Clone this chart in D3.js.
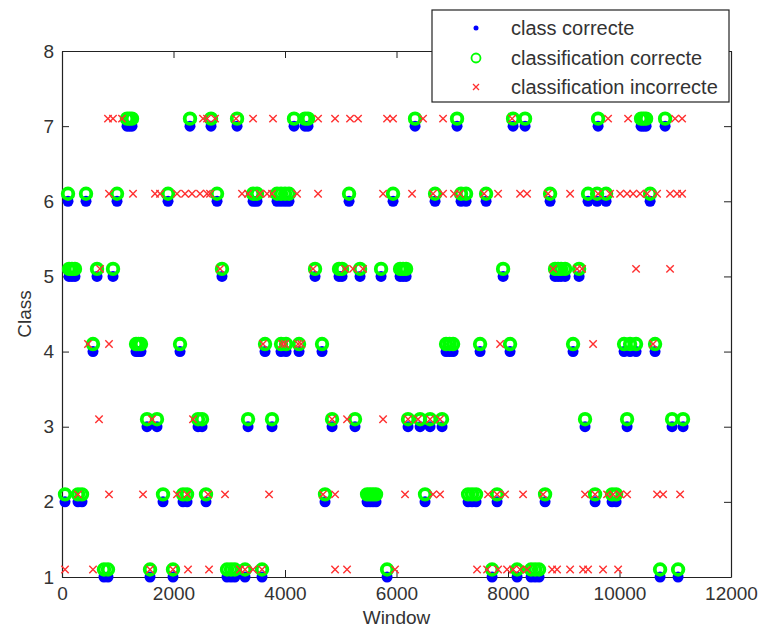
<!DOCTYPE html>
<html>
<head>
<meta charset="utf-8">
<script src="https://cdn.jsdelivr.net/npm/d3@7"></script>
<style>
  body { margin: 0; background: #fff; }
  svg { display: block; font-family: "Liberation Sans", Arial, sans-serif; }
</style>
</head>
<body>
<svg id="chart" width="760" height="629"></svg>
<script>
// window indices of correctly classified windows, per class
const correct1 = [753, 825, 1579, 1991, 2960, 3032, 3100, 3283, 3588, 5831, 7714, 8163, 8414, 8486, 8557, 10728, 11051];
const correct2 = [54, 287, 359, 1812, 2171, 2243, 2583, 4718, 5472, 5526, 5579, 5633, 6512, 7284, 7355, 7427, 7804, 8665, 9562, 9867, 9939];
const correct3 = [1525, 1704, 2440, 2512, 3337, 3767, 4844, 5256, 6207, 6423, 6602, 6817, 9382, 10136, 10943, 11140];
const correct4 = [556, 1328, 1372, 1417, 2117, 3642, 3929, 4019, 4252, 4664, 6889, 6952, 7015, 7499, 8037, 9167, 10082, 10190, 10297, 10638];
const correct5 = [126, 179, 233, 628, 915, 2870, 4539, 4969, 5023, 5346, 5723, 6064, 6118, 6172, 7912, 8844, 8898, 8952, 9024, 9275];
const correct6 = [108, 431, 987, 1902, 2781, 3427, 3498, 3857, 3929, 4001, 4072, 5149, 5938, 6692, 7158, 7248, 7607, 8755, 9436, 9598, 9759, 10549];
const correct7 = [1166, 1211, 1256, 2296, 2673, 3140, 4162, 4359, 4413, 6333, 7086, 8091, 8306, 9616, 10387, 10432, 10477, 10818];

// windows where the classifier was wrong, plotted on the class it predicted
const wrong1 = [54, 556, 1579, 1991, 2260, 2637, 3193, 3283, 3427, 3588, 4898, 5113, 5974, 7445, 7625, 7822, 7983, 8091, 8217, 8342, 8791, 8880, 9114, 9347, 9436, 9705, 9975];
const wrong2 = [287, 843, 1453, 2063, 2243, 2619, 2924, 3714, 4682, 4898, 6153, 6656, 6781, 7642, 7804, 7947, 8270, 8629, 9382, 9562, 9777, 9885, 10011, 10136, 10674, 10782, 11087];
const wrong3 = [664, 1615, 2350, 4844, 5113, 5759, 6207, 6386, 6602, 6781];
const wrong4 = [466, 843, 3606, 3947, 4001, 4234, 4288, 7858, 9526, 10602];
const wrong5 = [682, 2835, 4503, 5077, 5221, 5400, 8809, 9239, 9329, 10297, 10907];
const wrong6 = [843, 1274, 1668, 1758, 2063, 2207, 2332, 2476, 2601, 2655, 3229, 3337, 3552, 3678, 3767, 4216, 4593, 5759, 6279, 6656, 6835, 7032, 7140, 7571, 7822, 8217, 8342, 8719, 9114, 9616, 9831, 10011, 10136, 10244, 10369, 10495, 10674, 10907, 11033, 11123];
const wrong7 = [825, 915, 1076, 2530, 2601, 2745, 3122, 3427, 3785, 4593, 4898, 5167, 5310, 5831, 5938, 6476, 6835, 8073, 9795, 10154, 10997, 11123];

const classes = [1, 2, 3, 4, 5, 6, 7];
const correctByClass = [correct1, correct2, correct3, correct4, correct5, correct6, correct7];
const wrongByClass = [wrong1, wrong2, wrong3, wrong4, wrong5, wrong6, wrong7];

const xTicks = [0, 2000, 4000, 6000, 8000, 10000, 12000];
const yTicks = [1, 2, 3, 4, 5, 6, 7, 8];
const legendLabels = ["class correcte", "classification correcte", "classification incorrecte"];

const offset = 0.1; // classification markers are lifted a bit above the true class

const correctPts = [], wrongPts = [];
classes.forEach((c, i) => {
    correctByClass[i].forEach(w => correctPts.push({ w, c }));
    wrongByClass[i].forEach(w => wrongPts.push({ w, c }));
});

const svg = d3.select("#chart");
const plot = { left: 62, right: 731, top: 51, bottom: 577 };

const x = d3.scaleLinear().domain([0, 12000]).range([plot.left, plot.right]);
const y = d3.scaleLinear().domain([1, 8]).range([plot.bottom, plot.top]);

// axes (ticks pointing inward, box on)
const axisStyle = g => {
    g.attr("font-family", null);
    g.select(".domain").attr("stroke", "#222").attr("stroke-width", 1.2);
    g.selectAll(".tick line").attr("stroke", "#222");
    g.selectAll(".tick text").attr("fill", "#333").style("font-size", "19px");
};

svg.append("g")
    .attr("transform", `translate(0,${plot.bottom})`)
    .call(d3.axisBottom(x).tickValues(xTicks).tickSizeInner(-7).tickSizeOuter(0).tickPadding(10).tickFormat(d3.format("d")))
    .call(axisStyle);

svg.append("g")
    .attr("transform", `translate(0,${plot.top})`)
    .call(d3.axisTop(x).tickValues(xTicks).tickSizeInner(-7).tickSizeOuter(0).tickFormat(""))
    .call(axisStyle);

svg.append("g")
    .attr("transform", `translate(${plot.left},0)`)
    .call(d3.axisLeft(y).tickValues(yTicks).tickSizeInner(-7).tickSizeOuter(0).tickPadding(8).tickFormat(d3.format("d")))
    .call(axisStyle);

svg.append("g")
    .attr("transform", `translate(${plot.right},0)`)
    .call(d3.axisRight(y).tickValues(yTicks).tickSizeInner(-7).tickSizeOuter(0).tickFormat(""))
    .call(axisStyle);

// markers
const xPath = s => `M${-s},${-s}L${s},${s}M${-s},${s}L${s},${-s}`;

svg.append("g").selectAll("circle")
    .data(correctPts)
    .join("circle")
    .attr("cx", d => x(d.w))
    .attr("cy", d => y(d.c))
    .attr("r", 5.5)
    .attr("fill", "#0000ff");

svg.append("g").selectAll("circle")
    .data(correctPts)
    .join("circle")
    .attr("cx", d => x(d.w))
    .attr("cy", d => y(d.c + offset))
    .attr("r", 5.3)
    .attr("fill", "none")
    .attr("stroke", "#00ff00")
    .attr("stroke-width", 3.8);

svg.append("g").selectAll("path")
    .data(wrongPts)
    .join("path")
    .attr("transform", d => `translate(${x(d.w)},${y(d.c + offset)})`)
    .attr("d", xPath(3.7))
    .attr("fill", "none")
    .attr("stroke", "#ff3030")
    .attr("stroke-width", 1.4);

// axis titles
svg.append("text")
    .attr("x", (plot.left + plot.right) / 2)
    .attr("y", 624)
    .attr("text-anchor", "middle")
    .style("font-size", "19px")
    .attr("fill", "#333")
    .text("Window");

svg.append("text")
    .attr("transform", `translate(31,${(plot.top + plot.bottom) / 2}) rotate(-90)`)
    .attr("text-anchor", "middle")
    .style("font-size", "19px")
    .attr("fill", "#333")
    .text("Class");

// legend
const legend = svg.append("g");
legend.append("rect")
    .attr("x", 432).attr("y", 10)
    .attr("width", 297).attr("height", 92)
    .attr("fill", "#fff")
    .attr("stroke", "#222")
    .attr("stroke-width", 1.2);

const rowY = [28, 58, 87];
legend.append("circle").attr("cx", 476).attr("cy", rowY[0]).attr("r", 2.5).attr("fill", "#0000ff");
legend.append("circle").attr("cx", 476).attr("cy", rowY[1]).attr("r", 4.5)
    .attr("fill", "none").attr("stroke", "#00ff00").attr("stroke-width", 1.8);
legend.append("path").attr("transform", `translate(476,${rowY[2]})`).attr("d", xPath(3))
    .attr("fill", "none").attr("stroke", "#ff3030").attr("stroke-width", 1.3);

legend.selectAll("text.lbl")
    .data(legendLabels)
    .join("text")
    .attr("class", "lbl")
    .attr("x", 511)
    .attr("y", (d, i) => rowY[i] + 7)
    .style("font-size", "20px")
    .attr("fill", "#333")
    .text(d => d);
</script>
</body>
</html>
